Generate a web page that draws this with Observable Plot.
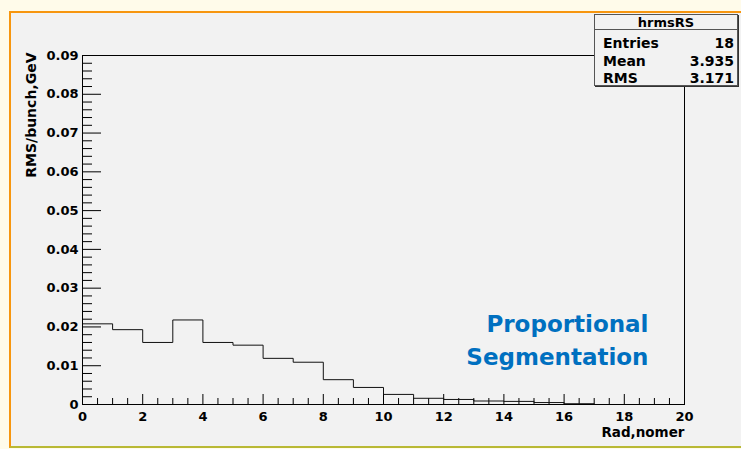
<!DOCTYPE html>
<html>
<head>
<meta charset="utf-8">
<script src="https://cdn.jsdelivr.net/npm/d3@7"></script>
<script src="https://cdn.jsdelivr.net/npm/@observablehq/plot@0.6"></script>
<style>
  body { margin: 0; }
  #page { position: relative; width: 741px; height: 449px; background: #fffbea; overflow: hidden; font-family: "DejaVu Sans", sans-serif; font-weight: bold; }
  #panel { position: absolute; left: 9px; top: 11px; width: 740px; height: 433px; background: #f2f2f2;
           border-left: 2px solid #f7960f; border-top: 2px solid #f7960f; border-bottom: 2px solid #b9b935; }
  #chart { position: absolute; left: 0; top: 0; }
  #stats { position: absolute; left: 594px; top: 14px; width: 142px; height: 70px; background: #f2f2f2;
           border: 1px solid #555; box-shadow: 1px 1px 0 #333; }
  #stats .title { position: absolute; left: 0; top: 0; width: 142px; height: 14px; border-bottom: 1px solid #555;
                  text-align: center; font-size: 13px; line-height: 15px; }
  #stats .row { position: absolute; left: 8px; width: 133px; font-size: 14px; line-height: 16px; }
  #stats .row .v { position: absolute; right: 2px; top: 0; }
</style>
</head>
<body>
<div id="page">
  <div id="panel"></div>
  <div id="chart"></div>
  <div id="stats"></div>
</div>
<script>
// ---- data ----
const histName = "hrmsRS";
const binLow = [0, 1, 2, 3, 4, 5, 6, 7, 8, 9, 10, 11, 12, 13, 14, 15, 16, 17, 18, 19];
const rmsPerBunch = [0.0208, 0.0193, 0.0160, 0.0218, 0.0160, 0.0153, 0.0119, 0.0109, 0.0064, 0.0044,
                     0.0026, 0.0016, 0.0013, 0.0009, 0.0008, 0.0005, 0.0002, 0, 0, 0];
const binWidth = 1;
const yMajorTicks = [0, 0.01, 0.02, 0.03, 0.04, 0.05, 0.06, 0.07, 0.08, 0.09];
const yTickLabels = ["0", "0.01", "0.02", "0.03", "0.04", "0.05", "0.06", "0.07", "0.08", "0.09"];
const xMajorTicks = [0, 2, 4, 6, 8, 10, 12, 14, 16, 18, 20];
const xTickLabels = ["0", "2", "4", "6", "8", "10", "12", "14", "16", "18", "20"];
const statNames = ["Entries", "Mean", "RMS"];
const statValues = ["18", "3.935", "3.171"];
const yTitle = "RMS/bunch,GeV";
const xTitle = "Rad,nomer";
const noteLines = ["Proportional", "Segmentation"];

// ---- derived ----
const stepPoints = binLow.map((x, i) => ({x, y: rmsPerBunch[i]}))
  .concat([{x: binLow[binLow.length - 1] + binWidth, y: rmsPerBunch[rmsPerBunch.length - 1]}]);
const yMinorTicks = d3.range(0, 46).filter(i => i % 5 !== 0).map(i => i * 0.002);
const xMinorTicks = d3.range(0, 41).filter(i => i % 4 !== 0).map(i => i * 0.5);
const yLab = new Map(yMajorTicks.map((t, i) => [t, yTickLabels[i]]));
const xLab = new Map(xMajorTicks.map((t, i) => [t, xTickLabels[i]]));

const font = {fontFamily: "DejaVu Sans", fontWeight: "bold"};

const chart = Plot.plot({
  width: 741, height: 449,
  marginLeft: 82, marginRight: 57, marginTop: 55, marginBottom: 45,
  x: {domain: [0, 20]},
  y: {domain: [0, 0.09]},
  style: {background: "transparent", fontFamily: "DejaVu Sans", fontWeight: "bold", fontSize: "13px", color: "#000"},
  marks: [
    Plot.axisY({ticks: yMinorTicks, tickSize: -10, tickFormat: () => "", label: null}),
    Plot.axisY({ticks: yMajorTicks, tickSize: -19, tickPadding: 23, tickFormat: d => yLab.get(d) ?? "", label: null, fontSize: 13}),
    Plot.axisX({ticks: xMinorTicks, tickSize: -6, tickFormat: () => "", label: null}),
    Plot.axisX({ticks: xMajorTicks, tickSize: -10, tickPadding: 17, tickFormat: d => xLab.get(d) ?? "", label: null, fontSize: 13}),
    Plot.line(stepPoints, {x: "x", y: "y", curve: "step-after", stroke: "#111", strokeWidth: 1}),
    Plot.frame({stroke: "#000"}),
    Plot.text([yTitle], {frameAnchor: "top-left", rotate: -90, textAnchor: "end", lineAnchor: "middle",
      dx: -51, dy: -3, fontSize: 14, ...font, fill: "#000"}),
    Plot.text([xTitle], {frameAnchor: "bottom-right", textAnchor: "end", lineAnchor: "middle",
      dx: 0, dy: 28.5, fontSize: 13.5, letterSpacing: 1, ...font, fill: "#000"}),
    Plot.text([noteLines[0]], {frameAnchor: "bottom-right", textAnchor: "end", lineAnchor: "middle",
      dx: -36, dy: -79.5, fontSize: 23, ...font, fill: "#0070c0"}),
    Plot.text([noteLines[1]], {frameAnchor: "bottom-right", textAnchor: "end", lineAnchor: "middle",
      dx: -36, dy: -46.5, fontSize: 23, ...font, fill: "#0070c0"})
  ]
});
document.getElementById("chart").appendChild(chart);

// ---- stats box ----
const stats = document.getElementById("stats");
const t = document.createElement("div");
t.className = "title";
t.textContent = histName;
stats.appendChild(t);
statNames.forEach((n, i) => {
  const r = document.createElement("div");
  r.className = "row";
  r.style.top = (20 + i * 17.5) + "px";
  const a = document.createElement("span");
  a.textContent = n;
  const b = document.createElement("span");
  b.className = "v";
  b.textContent = statValues[i];
  r.appendChild(a); r.appendChild(b);
  stats.appendChild(r);
});
</script>
</body>
</html>
